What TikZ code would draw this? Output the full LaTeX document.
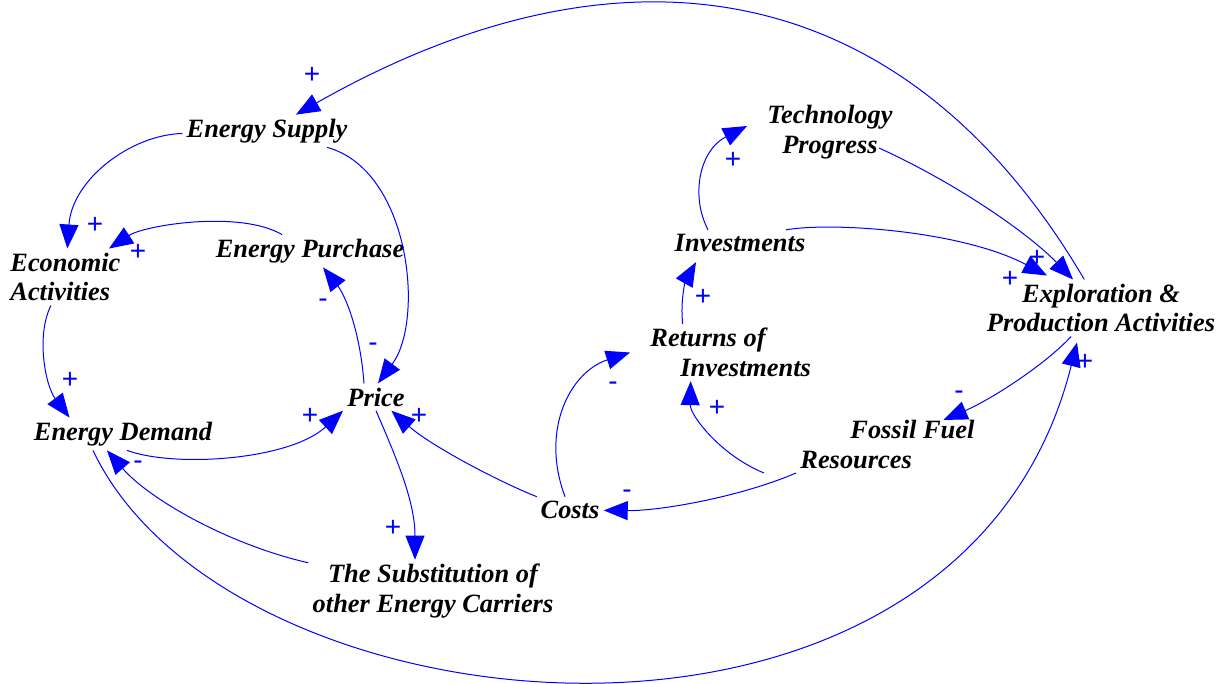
\documentclass[tikz,border=0pt]{standalone}
\usepackage{fontspec}
\setmainfont{Liberation Serif}
\newfontfamily\signfont{Liberation Sans}
\usetikzlibrary{arrows.meta}

\begin{document}
\begin{tikzpicture}[x=0.5pt,y=-0.5pt,>={Triangle[length=12pt,width=9.5pt]},
	var node/.style={font=\bfseries\itshape\fontsize{13.2}{14.8}\selectfont,inner sep=2pt,align=center},
	sign node/.style={text=blue,font=\signfont\fontsize{14}{14}\selectfont,inner sep=0pt},
	link/.style={->,draw=blue,line width=0.5pt}]
	
	\useasboundingbox (0,0) rectangle (1221,684);
	
	% demand side
	\node[var node] (supply) at (267,131) {Energy Supply};
	\node[var node,align=left,anchor=west] (econ) at (6,277) {Economic\\Activities};
	\node[var node] (pur) at (310,251) {Energy Purchase};
	\node[var node] (dem) at (123,434) {Energy Demand};
	\node[var node] (price) at (376,397) {Price};
	\node[var node] (subst) at (433,591) {The Substitution of\\other Energy Carriers};
	
	% supply side
	\node[var node] (costs) at (570,510) {Costs};
	\node[var node,align=left,anchor=west] (ret) at (646,352.5) {Returns of\\\hspace*{15pt}Investments};
	\node[var node,align=left,anchor=west] (res) at (796,444.5) {\hspace*{25pt}Fossil Fuel\\Resources};
	\node[var node] (inv) at (740,243) {Investments};
	\node[var node] (tech) at (830,132) {Technology\\Progress};
	\node[var node] (expl) at (1101,308) {Exploration \&\\Production Activities};
	
	% links
	\draw[link] (expl) .. controls (906,-24) and (625,-72) .. (supply);
	\draw[link] (supply) .. controls (130,135) and (72,180) .. (econ);
	\draw[link] (pur) .. controls (240,210) and (145,225) .. (econ);
	\draw[link] (supply) .. controls (410,170) and (425,320) .. ([xshift=1pt]price.north);
	\draw[link] ([xshift=-6pt]price.north) .. controls (360,330) and (345,295) .. (pur);
	\draw[link] (econ) .. controls (36,335) and (45,385) .. ([xshift=20pt]dem.north west);
	\draw[link] ([xshift=2pt]dem.south) .. controls (175,468) and (290,460) .. (price.south west);
	\draw[link] (subst) .. controls (230,545) and (150,500) .. ([xshift=-8pt]dem.south);
	\draw[link] ([xshift=-15pt]dem.south) .. controls (230,740) and (960,810) .. ([shift={(-12pt,-3pt)}]expl.south);
	\draw[link] (price.south) .. controls (395,455) and (415,500) .. ([xshift=-9pt]subst.north);
	\draw[link] (costs) .. controls (495,480) and (430,445) .. (price);
	\draw[link] (costs) .. controls (540,430) and (570,372) .. ([xshift=-8pt]ret.west);
	\draw[link] (res.south west) .. controls (740,497) and (660,511) .. (costs);
	\draw[link] ([xshift=-16pt]res.south west) .. controls (720,455) and (690,415) .. ([xshift=-20pt]ret.south);
	\draw[link] ([xshift=-24pt]ret.north) .. controls (680,300) and (686,280) .. ([shift={(-22pt,-3pt)}]inv.south);
	\draw[link] ([xshift=-16pt]inv.north) .. controls (690,195) and (700,150) .. ([shift={(-8pt,3pt)}]tech.west);
	\draw[link] ([shift={(-9pt,-8pt)}]tech.east) .. controls (960,185) and (1030,235) .. ([xshift=-14pt]expl.north);
	\draw[link] ([xshift=23pt]inv.north) .. controls (830,222) and (960,230) .. ([shift={(-27pt,2pt)}]expl.north);
	\draw[link] ([xshift=-15pt]expl.south) .. controls (1045,365) and (990,400) .. ([shift={(28pt,-2pt)}]res.north);
	
	% polarities
	\node[sign node] (s1) at (312,75) {+};
	\node[sign node] (s2) at (95,225) {+};
	\node[sign node] (s3) at (138,252) {+};
	\node[sign node] (s4) at (373,347) {-};
	\node[sign node] (s5) at (323,303) {-};
	\node[sign node] (s6) at (70,380) {+};
	\node[sign node] (s7) at (310,416) {+};
	\node[sign node] (s8) at (138,465) {-};
	\node[sign node] (s9) at (1085,362) {+};
	\node[sign node] (s10) at (393,528) {+};
	\node[sign node] (s11) at (419,416) {+};
	\node[sign node] (s12) at (613,386) {-};
	\node[sign node] (s13) at (627,494) {-};
	\node[sign node] (s14) at (717,408) {+};
	\node[sign node] (s15) at (703,297) {+};
	\node[sign node] (s16) at (733,160) {+};
	\node[sign node] (s17) at (1037,258) {+};
	\node[sign node] (s18) at (1010,279) {+};
	\node[sign node] (s19) at (959,395) {-};
\end{tikzpicture}
\end{document}
